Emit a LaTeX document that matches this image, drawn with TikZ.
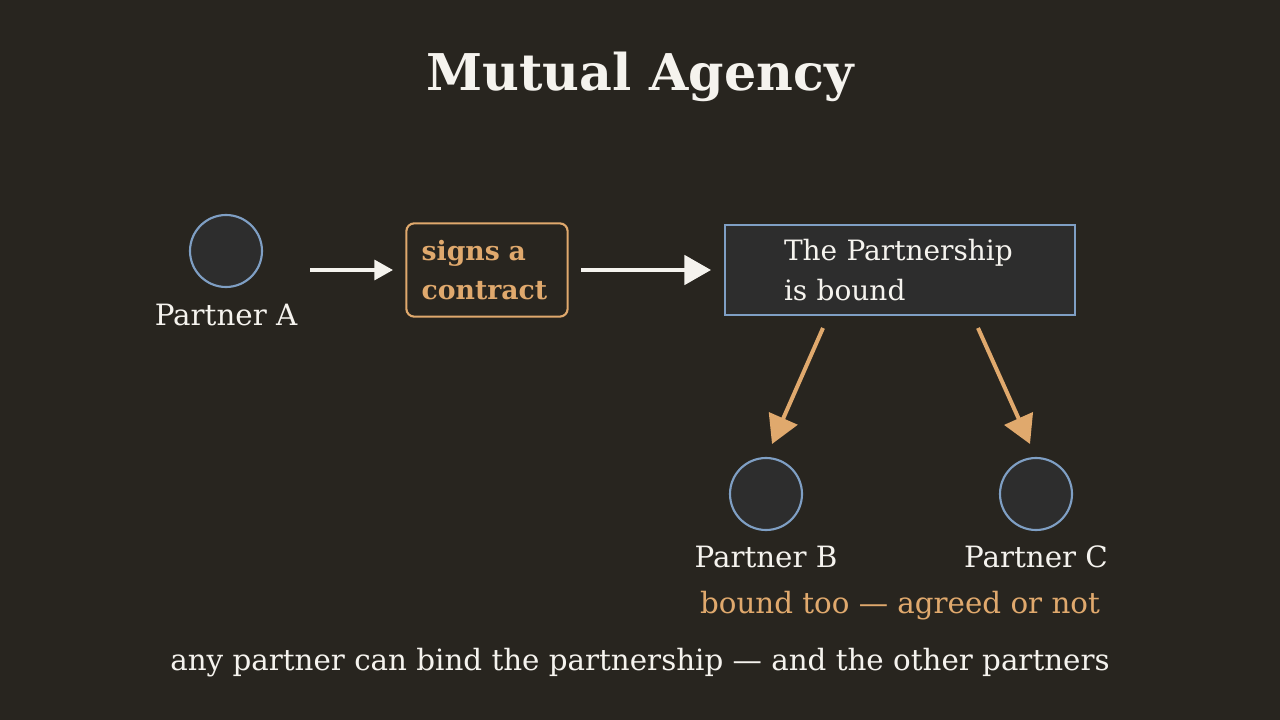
\documentclass[tikz,border=0pt]{standalone}
\usepackage{fontspec}
\setmainfont{DejaVu Serif}
\usetikzlibrary{positioning,arrows.meta}
\definecolor{bg}{HTML}{28251F}
\definecolor{fillgray}{HTML}{2D2D2D}
\definecolor{edgeblue}{HTML}{7F9FC4}
\definecolor{accent}{HTML}{E0A96D}
\definecolor{ink}{HTML}{F5F3EE}
\begin{document}
\begin{tikzpicture}[x=0.75pt,y=-0.75pt,
		partner/.style={circle, draw=edgeblue, fill=fillgray, line width=1.6pt, minimum size=54pt, inner sep=0pt},
		caption/.style={text=ink, font=\fontsize{22}{26}\selectfont},
		bindarrow/.style={draw=accent, line width=3pt, -{Triangle[length=21pt,width=23pt]}}
	]
	\fill[bg] (0,0) rectangle (1280,720);
	\node[text=ink, font=\bfseries\fontsize{38}{42}\selectfont] (title) at (640,77) {Mutual Agency};
	% partner who acts
	\node[partner] (pa) at (226,251) {};
	\node[caption] (pal) at (226,315) {Partner A};
	\node[draw=accent, line width=1.6pt, rounded corners=6pt, minimum width=121pt, minimum height=70pt,
		text=accent, font=\bfseries\fontsize{20}{29}\selectfont, align=left, text width=98pt, inner sep=0pt] (act) at (487,270) {signs a\\contract};
	\node[draw=edgeblue, fill=fillgray, line width=1.6pt, minimum width=263pt, minimum height=67pt,
		text=ink, font=\fontsize{21}{30}\selectfont, align=left, text width=174pt, inner sep=0pt] (firm) at (900,270) {The Partnership\\is bound};
	\coordinate (a1) at (310,270);
	\coordinate (a2) at (393,270);
	\coordinate (b1) at (581,270);
	\coordinate (b2) at (711,270);
	\draw[draw=ink, line width=2.4pt, -{Triangle[length=14pt,width=15pt]}] (a1) -- (a2);
	\draw[draw=ink, line width=3pt, -{Triangle[length=20pt,width=22pt]}] (b1) -- (b2);
	% the other partners
	\node[partner] (pb) at (766,494) {};
	\node[partner] (pc) at (1036,494) {};
	\node[caption] (pbl) at (766,557) {Partner B};
	\node[caption] (pcl) at (1036,557) {Partner C};
	\coordinate (c1) at (823,328);
	\coordinate (c2) at (772,444);
	\coordinate (d1) at (978,328);
	\coordinate (d2) at (1030,444);
	\draw[bindarrow] (c1) -- (c2);
	\draw[bindarrow] (d1) -- (d2);
	\node[text=accent, font=\fontsize{22}{26}\selectfont] (note) at (900,606) {bound too — agreed or not};
	\node[caption] (foot) at (640,663) {any partner can bind the partnership — and the other partners};
\end{tikzpicture}
\end{document}
